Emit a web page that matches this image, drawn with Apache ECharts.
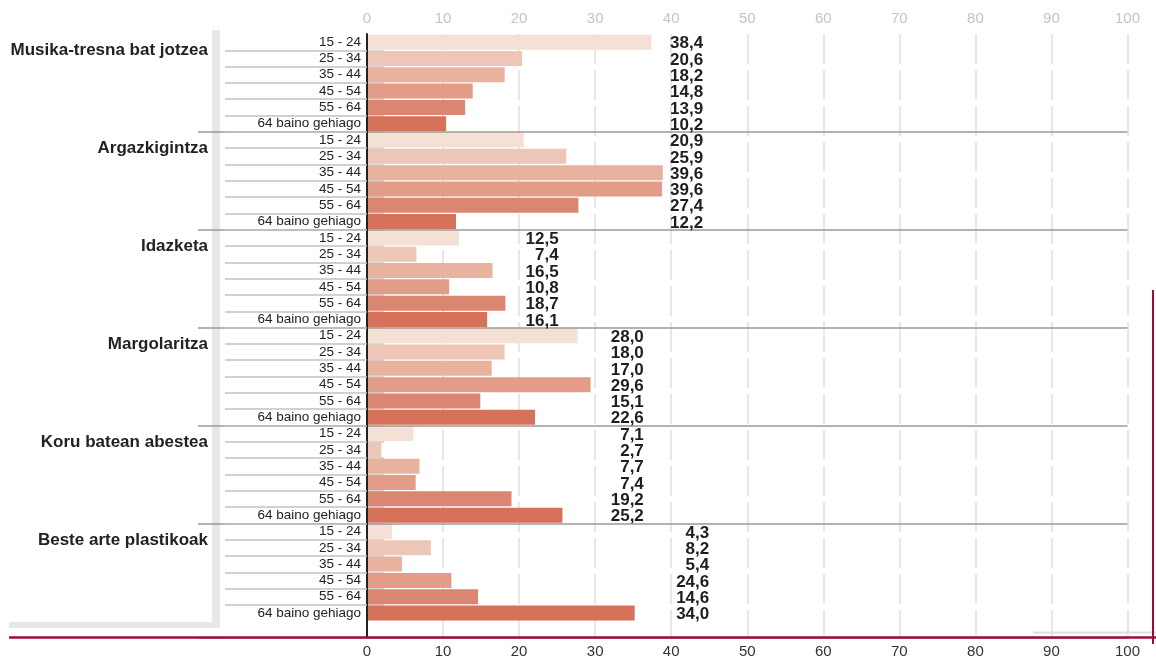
<!DOCTYPE html>
<html>
<head>
<meta charset="utf-8">
<script src="https://cdn.jsdelivr.net/npm/echarts@6/dist/echarts.min.js"></script>
<style>
  html, body { margin: 0; padding: 0; background: #ffffff; }
  #chart { width: 1156px; height: 662px; }
</style>
</head>
<body>
<div id="chart"></div>
<script>
  // datuak
  const groups = ['Musika-tresna bat jotzea', 'Argazkigintza', 'Idazketa', 'Margolaritza', 'Koru batean abestea', 'Beste arte plastikoak'];
  const ages = ['15 - 24', '25 - 34', '35 - 44', '45 - 54', '55 - 64', '64 baino gehiago'];
  // bar lengths as drawn in the picture
  const barMusika = [37.4, 20.4, 18.1, 13.9, 12.9, 10.4];
  const barArgazki = [20.6, 26.2, 38.9, 38.8, 27.8, 11.7];
  const barIdazketa = [12.1, 6.5, 16.5, 10.8, 18.2, 15.8];
  const barMargo = [27.7, 18.1, 16.4, 29.4, 14.9, 22.1];
  const barKoru = [6.1, 1.9, 6.9, 6.4, 19.0, 25.7];
  const barBeste = [3.3, 8.4, 4.6, 11.1, 14.6, 35.2];
  // printed values
  const valMusika = [38.4, 20.6, 18.2, 14.8, 13.9, 10.2];
  const valArgazki = [20.9, 25.9, 39.6, 39.6, 27.4, 12.2];
  const valIdazketa = [12.5, 7.4, 16.5, 10.8, 18.7, 16.1];
  const valMargo = [28.0, 18.0, 17.0, 29.6, 15.1, 22.6];
  const valKoru = [7.1, 2.7, 7.7, 7.4, 19.2, 25.2];
  const valBeste = [4.3, 8.2, 5.4, 24.6, 14.6, 34.0];
  // column (axis value) where each group's printed values end
  const labelColumn = [44.2, 44.2, 25.2, 36.4, 36.4, 45.0];

  const ageColors = ['#f4e0d5', '#eec6b7', '#e8b29e', '#e29c87', '#db8671', '#d6725a'];
  const font = "'Liberation Sans', Arial, sans-serif";

  const barGroups = [barMusika, barArgazki, barIdazketa, barMargo, barKoru, barBeste];
  const valGroups = [valMusika, valArgazki, valIdazketa, valMargo, valKoru, valBeste];

  let categories = [];
  let barData = [];
  let labelData = [];
  for (let g = 0; g < groups.length; g++) {
    for (let a = 0; a < ages.length; a++) {
      let idx = g * ages.length + a;
      categories.push('c' + idx);
      barData.push({value: barGroups[g][a], itemStyle: {color: ageColors[a]}});
      labelData.push({value: [labelColumn[g], idx], txt: valGroups[g][a].toFixed(1).replace('.', ',')});
    }
  }
  // hutsik dagoen azken errenkada (marra gorriaren azpian)
  categories.push('');
  const nRows = 36;

  const sepInterval = function (i) { return i % 6 === 0 && i > 0 && i < nRows; };
  const rowInterval = function (i) { return i > 0 && i < nRows; };

  const myChart = echarts.init(document.getElementById('chart'));
  const option = {
    animation: false,
    backgroundColor: '#ffffff',
    grid: {left: 367, right: 28.5, top: 34, bottom: 24.5, containLabel: false, outerBoundsMode: 'none'},
    xAxis: [{
      type: 'value', position: 'top', min: 0, max: 100, interval: 10,
      axisLine: {show: false}, axisTick: {show: false},
      axisLabel: {color: '#c4c4c4', fontSize: 15, fontFamily: font, margin: 8},
      splitLine: {show: true, lineStyle: {color: '#e0e0e0', width: 1.5, type: [30, 6]}}
    }, {
      type: 'value', position: 'bottom', min: 0, max: 100, interval: 10,
      axisLine: {show: false}, axisTick: {show: false},
      axisLabel: {color: '#333333', fontSize: 15, fontFamily: font, margin: 7},
      splitLine: {show: false}
    }],
    yAxis: [{
      type: 'category', inverse: true, data: categories, position: 'left',
      axisLine: {show: true, lineStyle: {color: '#222222', width: 2}},
      axisTick: {show: true, interval: rowInterval, length: 142, lineStyle: {color: '#c2c2c2', width: 1.5}},
      axisLabel: {
        color: '#222222', fontSize: 13.5, fontFamily: font, margin: 6, interval: 0,
        formatter: function (v, i) { return i < nRows ? ages[i % 6] : ''; }
      },
      splitLine: {show: true, interval: sepInterval, lineStyle: {color: '#9a9a9a', width: 1.5}},
      z: 5
    }, {
      type: 'category', inverse: true, data: categories, position: 'left', offset: 155,
      axisLine: {show: false}, axisTick: {show: false}, splitLine: {show: false},
      axisLabel: {
        margin: 4, interval: 0,
        formatter: function (v, i) { return (i < nRows && i % 6 === 0) ? '{g|' + groups[i / 6] + '}' : ''; },
        rich: {g: {fontSize: 17, fontWeight: 'bold', fontFamily: font, color: '#222222', padding: [17, 0, 0, 0]}}
      }
    }, {
      type: 'category', inverse: true, data: categories, position: 'left',
      axisLine: {show: false}, axisLabel: {show: false}, splitLine: {show: false},
      axisTick: {show: true, interval: sepInterval, length: 169, lineStyle: {color: '#9a9a9a', width: 1.5}}
    }, {
      type: 'category', inverse: true, data: categories, position: 'left',
      axisLine: {show: false}, axisLabel: {show: false}, splitLine: {show: false},
      axisTick: {show: true, interval: rowInterval, inside: true, length: 17, lineStyle: {color: '#c8c8c8', width: 1.5}}
    }],
    graphic: [
      {type: 'rect', shape: {x: 212, y: 30, width: 8, height: 598}, style: {fill: '#e6e7e9'}, z: 0},
      {type: 'rect', shape: {x: 9, y: 622, width: 211, height: 6}, style: {fill: '#e6e7e9'}, z: 0},
      {type: 'line', shape: {x1: 1033, y1: 632.5, x2: 1156, y2: 632.5}, style: {stroke: '#dddddd', lineWidth: 2}},
      {type: 'line', shape: {x1: 9, y1: 637.5, x2: 1156, y2: 637.5}, style: {stroke: '#9c0d36', lineWidth: 2.5}, z: 10},
      {type: 'line', shape: {x1: 1153, y1: 290, x2: 1153, y2: 644}, style: {stroke: '#9c0d36', lineWidth: 2}, z: 10}
    ],
    series: [{
      type: 'bar', data: barData, xAxisIndex: 0, yAxisIndex: 0,
      barCategoryGap: '8%', z: 3
    }, {
      type: 'scatter', data: labelData, xAxisIndex: 0, yAxisIndex: 0,
      symbolSize: 0, silent: true, z: 6,
      itemStyle: {opacity: 1},
      label: {
        show: true, position: 'left', distance: 0, offset: [0, 1.5],
        formatter: function (p) { return p.data.txt; },
        fontSize: 17, fontWeight: 'bold', fontFamily: font, color: '#1e1e1e',
        textBorderWidth: 0, textShadowBlur: 0
      },
      emphasis: {disabled: true}
    }]
  };
  myChart.setOption(option);
</script>
</body>
</html>
